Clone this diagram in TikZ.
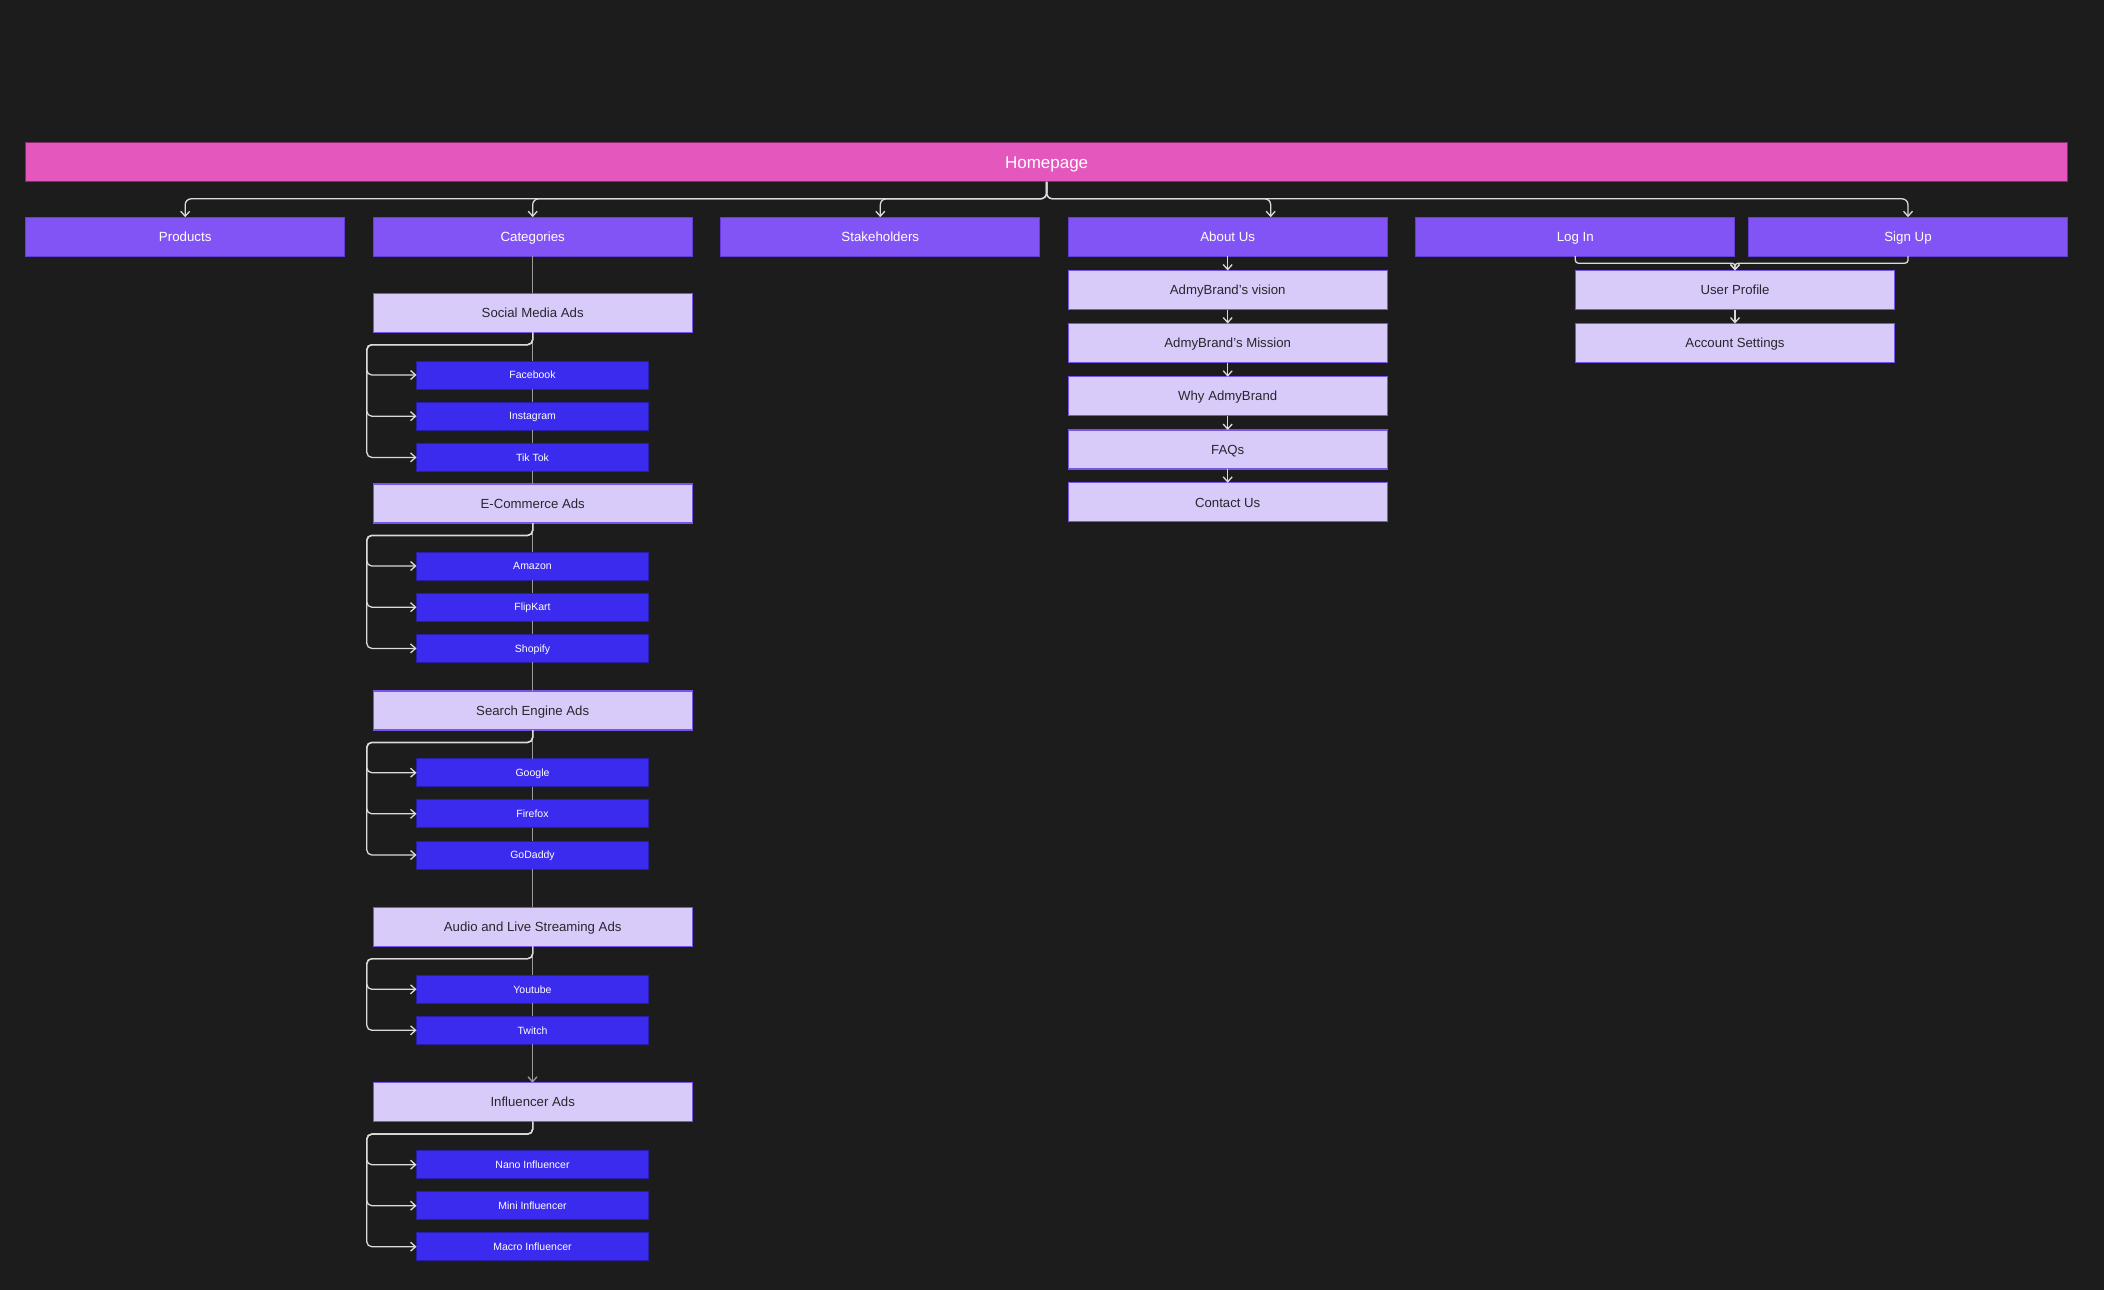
\documentclass[tikz,border=0pt]{standalone}
\usepackage{fontspec}
\setmainfont{Liberation Sans}
\usetikzlibrary{arrows.meta,positioning,calc}
\definecolor{sitebg}{RGB}{27,28,27}
\definecolor{sitepink}{RGB}{228,87,188}
\definecolor{sitepinkedge}{RGB}{130,45,105}
\definecolor{sitepurple}{RGB}{131,84,245}
\definecolor{sitepurpleedge}{RGB}{100,60,215}
\definecolor{sitelavender}{RGB}{217,203,249}
\definecolor{sitelavedge}{RGB}{120,85,232}
\definecolor{siteblue}{RGB}{59,43,238}
\definecolor{siteblueedge}{RGB}{40,30,170}
\definecolor{sitetext}{RGB}{40,38,45}
\definecolor{sitewire}{RGB}{218,218,218}
\definecolor{sitespine}{RGB}{155,155,155}

\begin{document}
\begin{tikzpicture}[
    x=1pt, y=-1pt,
    every node/.style={inner sep=0pt, outer sep=0pt},
    home/.style={draw=sitepinkedge, fill=sitepink, line width=1.2pt, minimum width=2042pt, minimum height=39pt, text=white, text height=13.2pt, text depth=1pt, font=\fontsize{17}{20}\selectfont},
    navbox/.style={draw=sitepurpleedge, fill=sitepurple, line width=1pt, minimum width=319pt, minimum height=39pt, text=white, text height=10.5pt, text depth=1pt, font=\fontsize{13.3}{16}\selectfont},
    subpage/.style={draw=sitelavedge, fill=sitelavender, line width=1.1pt, minimum width=319pt, minimum height=39pt, text=sitetext, text height=10.4pt, text depth=1pt, font=\fontsize{13.2}{16}\selectfont},
    leaf/.style={draw=siteblueedge, fill=siteblue, line width=0.8pt, minimum width=232pt, minimum height=28pt, text=white, text height=8.2pt, text depth=0.7pt, font=\fontsize{10.5}{12}\selectfont},
    arr/.style={-{Straight Barb[length=5pt,width=9pt]}, line width=1.3pt, draw=sitewire},
    spine/.style={line width=1.3pt, draw=sitespine}
  ]
    \fill[sitebg] (0,0) rectangle (2104,1290);

    \node[home] (home) at (1046.6,162.3) {Homepage};

    \node[navbox] (products) at (185.2,236.7) {Products};
    \node[navbox] (categories) at (532.7,236.7) {Categories};
    \node[navbox] (stakeholders) at (880.3,236.7) {Stakeholders};
    \node[navbox] (about) at (1227.7,236.7) {About Us};
    \node[navbox] (login) at (1575.3,236.7) {Log In};
    \node[navbox] (signup) at (1908,236.7) {Sign Up};

    % categories column
    \node[subpage] (sma) at (532.7,312.8) {Social Media Ads};
    \node[leaf] (fb) at (532.5,375) {Facebook};
    \node[leaf] (ig) at (532.5,416.2) {Instagram};
    \node[leaf] (tt) at (532.5,457.4) {Tik Tok};
    \node[subpage] (eca) at (532.7,503.5) {E-Commerce Ads};
    \node[leaf] (amazon) at (532.5,566) {Amazon};
    \node[leaf] (flipkart) at (532.5,607.2) {FlipKart};
    \node[leaf] (shopify) at (532.5,648.4) {Shopify};
    \node[subpage] (sea) at (532.7,710.5) {Search Engine Ads};
    \node[leaf] (google) at (532.5,772.7) {Google};
    \node[leaf] (firefox) at (532.5,813.8) {Firefox};
    \node[leaf] (godaddy) at (532.5,855) {GoDaddy};
    \node[subpage] (alsa) at (532.7,926.8) {Audio and Live Streaming Ads};
    \node[leaf] (youtube) at (532.5,989.3) {Youtube};
    \node[leaf] (twitch) at (532.5,1030.3) {Twitch};
    \node[subpage] (ia) at (532.7,1102.2) {Influencer Ads};
    \node[leaf] (nano) at (532.5,1164.7) {Nano Influencer};
    \node[leaf] (mini) at (532.5,1205.7) {Mini Influencer};
    \node[leaf] (macro) at (532.5,1246.7) {Macro Influencer};

    % about column
    \node[subpage] (vision) at (1227.7,290) {AdmyBrand’s vision};
    \node[subpage] (mission) at (1227.7,343) {AdmyBrand’s Mission};
    \node[subpage] (why) at (1227.7,396.2) {Why AdmyBrand};
    \node[subpage] (faqs) at (1227.7,449.5) {FAQs};
    \node[subpage] (contact) at (1227.7,502.3) {Contact Us};

    % account column
    \node[subpage] (profile) at (1735,290) {User Profile};
    \node[subpage] (account) at (1735,343) {Account Settings};

    \foreach \t in {products,categories,stakeholders,signup}
      \draw[arr, rounded corners=6pt] (home.south) -- ++(0,17) -| (\t.north);
    \draw[arr, rounded corners=6pt] (home.south) -- ++(0,17) -| ([xshift=43pt]about.north);

    \foreach \a/\b in {categories/sma, sma/fb, fb/ig, ig/tt, tt/eca, eca/amazon, amazon/flipkart, flipkart/shopify, shopify/sea,
                       sea/google, google/firefox, firefox/godaddy, godaddy/alsa, alsa/youtube, youtube/twitch}
      \draw[spine] (\a.south) -- (\a.south |- \b.north);
    \draw[spine, -{Straight Barb[length=5pt,width=9pt]}] (twitch.south) -- (twitch.south |- ia.north);

    \foreach \p/\c in {sma/fb, sma/ig, sma/tt, eca/amazon, eca/flipkart, eca/shopify, sea/google, sea/firefox, sea/godaddy,
                       alsa/youtube, alsa/twitch, ia/nano, ia/mini, ia/macro}
      \draw[arr, rounded corners=5pt] (\p.south) -- ++(0,12.4) -| ($(\p.west |- \c.west)+(-6.4,0)$) -- (\c.west);

    \foreach \a/\b in {about/vision, vision/mission, mission/why, why/faqs, faqs/contact, profile/account}
      \draw[arr] (\a.south) -- (\b.north);

    \foreach \s in {login,signup}
      \draw[arr, rounded corners=3pt] (\s.south) -- ++(0,7) -| (profile.north);
  \end{tikzpicture}
\end{document}
